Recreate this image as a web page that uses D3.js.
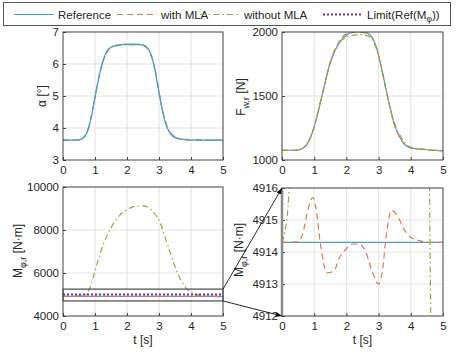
<!DOCTYPE html>
<html>
<head>
<meta charset="utf-8">
<script src="https://cdn.jsdelivr.net/npm/d3@7"></script>
<style>
  body { margin: 0; background: #fff; }
  text { font-family: "Liberation Sans", Arial, sans-serif; fill: #262626; }
</style>
</head>
<body>
<div id="chart"></div>
<script>
// ---- data ----
var tAlpha   = [0,0.5,0.625,0.75,0.875,1,1.125,1.25,1.375,1.5,1.75,2,2.25,2.5,2.625,2.75,2.875,3,3.125,3.25,3.375,3.5,3.75,4,5];
var alphaRef = [3.62,3.63,3.68,3.85,4.3,4.95,5.6,6.1,6.4,6.53,6.6,6.62,6.62,6.6,6.52,6.3,5.8,5.1,4.45,4.02,3.8,3.7,3.64,3.62,3.62];
var alphaMLA = [3.62,3.63,3.69,3.86,4.32,4.97,5.6,6.08,6.38,6.52,6.59,6.61,6.61,6.59,6.51,6.29,5.82,5.12,4.48,4.04,3.82,3.71,3.65,3.62,3.62];
var alphaNo  = [3.62,3.63,3.69,3.87,4.33,4.98,5.62,6.09,6.38,6.51,6.58,6.6,6.6,6.58,6.5,6.28,5.83,5.14,4.5,4.06,3.83,3.72,3.65,3.63,3.62];

var tF   = [0,0.5,0.625,0.75,0.875,1,1.125,1.25,1.5,1.75,2,2.25,2.5,2.75,2.875,3,3.125,3.25,3.5,3.75,4,4.5,5];
var fRef = [1075,1078,1090,1115,1170,1260,1380,1510,1760,1905,1975,2000,2000,1975,1920,1820,1680,1530,1270,1140,1095,1080,1072];
var fMLA = [1075,1078,1090,1115,1170,1260,1380,1510,1765,1915,1985,1998,1996,1970,1915,1815,1675,1525,1270,1140,1095,1080,1072];
var fNo  = [1075,1078,1090,1115,1172,1262,1385,1515,1770,1905,1960,1975,1978,1960,1910,1810,1670,1525,1285,1160,1100,1082,1072];

var tMRef = [0,5];
var mRef  = [4914.3,4914.3];
var tMMLA = [0,0.5,0.65,0.8,0.95,1.05,1.2,1.4,1.6,1.8,2.0,2.2,2.4,2.6,2.8,3.0,3.1,3.25,3.4,3.6,3.8,4.0,4.3,4.6,5];
var mMLA  = [4914.3,4914.32,4914.6,4915.3,4915.7,4915.4,4914.2,4913.35,4913.4,4913.85,4914.1,4914.25,4914.25,4914.0,4913.4,4913.0,4913.3,4914.6,4915.3,4915.1,4914.7,4914.45,4914.35,4914.3,4914.3];
var tMNo  = [0,0.1,0.2,0.3,0.5,0.7,0.85,1,1.25,1.5,1.75,2,2.25,2.5,2.75,3,3.25,3.5,3.75,4,4.3,4.5,4.6,4.7,5];
var mNo   = [4914.3,4914.7,4915.6,4918,4935,4990,5350,6100,7300,8100,8650,8950,9100,9120,8950,8450,7400,6300,5500,5100,4960,4925,4914,4903,4860];
var tLimit = [0,5];
var mLimit = [5000,5000];

var zoomBox = [4700, 5250];   // rectangle marked on the lower-left plot

var xTicks = [0,1,2,3,4,5];
var legendLabels = ["Reference", "with MLA", "without MLA", "Limit(Ref(M"];

// ---- styles ----
var STY = {
	ref:   {color: "#3d9fe0", dash: null,        w: 1.2},
	mla:   {color: "#e8764a", dash: "6,4",       w: 1.2},
	no:    {color: "#86b33c", dash: "6,3,1.5,3", w: 1.2},
	limit: {color: "#7e2f8e", dash: "2,2",       w: 2.2}
};

var W = 457, H = 356;
var svg = d3.select("#chart").append("svg")
	.attr("width", W)
	.attr("height", H);

var zip = (t, v) => t.map((d, i) => [d, v[i]]);

var panels = [
	{id: "a", x: [63, 223], y: [160, 32], dom: [3, 7], yticks: [3,4,5,6,7],
		series: [["no", tAlpha, alphaNo], ["mla", tAlpha, alphaMLA], ["ref", tAlpha, alphaRef]]},
	{id: "f", x: [282, 443], y: [160, 32], dom: [1000, 2000], yticks: [1000,1500,2000],
		series: [["ref", tF, fRef], ["mla", tF, fMLA], ["no", tF, fNo]]},
	{id: "m", x: [63, 223], y: [316, 187], dom: [4000, 10000], yticks: [4000,6000,8000,10000],
		series: [["no", tMNo, mNo], ["ref", tMRef, mRef], ["mla", tMMLA, mMLA], ["limit", tLimit, mLimit]], xlabel: true},
	{id: "z", x: [282, 443], y: [316, 188], dom: [4912, 4916], yticks: [4912,4913,4914,4915,4916],
		series: [["ref", tMRef, mRef], ["mla", tMMLA, mMLA], ["no", tMNo, mNo], ["limit", tLimit, mLimit]], xlabel: true}
];

panels.forEach(function(p){
	p.xs = d3.scaleLinear().domain([0, 5]).range(p.x);
	p.ys = d3.scaleLinear().domain(p.dom).range(p.y);
	var g = svg.append("g");

	svg.append("clipPath").attr("id", "clip-" + p.id)
		.append("rect")
		.attr("x", p.x[0]).attr("y", p.y[1])
		.attr("width", p.x[1] - p.x[0]).attr("height", p.y[0] - p.y[1]);

	// grid
	g.selectAll(".gx").data(xTicks.slice(1, -1)).enter().append("line")
		.attr("x1", d => p.xs(d)).attr("x2", d => p.xs(d))
		.attr("y1", p.y[0]).attr("y2", p.y[1])
		.attr("stroke", "#e3e3e3");
	g.selectAll(".gy").data(p.yticks.slice(1, -1)).enter().append("line")
		.attr("y1", d => p.ys(d)).attr("y2", d => p.ys(d))
		.attr("x1", p.x[0]).attr("x2", p.x[1])
		.attr("stroke", "#e3e3e3");

	// lines
	var line = d3.line().x(d => p.xs(d[0])).y(d => p.ys(d[1])).curve(d3.curveMonotoneX);
	var lg = g.append("g").attr("clip-path", "url(#clip-" + p.id + ")");
	p.series.forEach(function(s){
		var st = STY[s[0]];
		lg.append("path")
			.datum(zip(s[1], s[2]))
			.attr("d", line)
			.attr("fill", "none")
			.attr("stroke", st.color)
			.attr("stroke-width", st.w)
			.attr("stroke-dasharray", st.dash);
	});

	// axes (inward ticks)
	var ax = g.append("g").attr("transform", `translate(0,${p.y[0]})`)
		.call(d3.axisBottom(p.xs).tickValues(xTicks).tickSize(-3).tickPadding(6).tickFormat(d3.format("d")));
	var ay = g.append("g").attr("transform", `translate(${p.x[0]},0)`)
		.call(d3.axisLeft(p.ys).tickValues(p.yticks).tickSize(-3).tickPadding(4).tickFormat(d3.format("d")));
	[ax, ay].forEach(function(a){
		a.select(".domain").remove();
		a.selectAll("line").attr("stroke", "#444");
		a.selectAll("text").style("font-size", "11.5px").style("fill", "#262626")
			.style("font-family", '"Liberation Sans", Arial, sans-serif');
	});

	g.append("rect")
		.attr("x", p.x[0]).attr("y", p.y[1])
		.attr("width", p.x[1] - p.x[0]).attr("height", p.y[0] - p.y[1])
		.attr("fill", "none").attr("stroke", "#404040").attr("stroke-width", 1);

	if(p.xlabel){
		g.append("text")
			.attr("x", (p.x[0] + p.x[1]) / 2).attr("y", p.y[0] + 28)
			.attr("text-anchor", "middle").style("font-size", "12px")
			.text("t [s]");
	}
});

// y labels
function yLabel(x, y, main, sub, unit){
	var t = svg.append("text")
		.attr("transform", `translate(${x},${y}) rotate(-90)`)
		.attr("text-anchor", "middle")
		.style("font-size", "12px");
	t.append("tspan").text(main);
	if(sub){
		t.append("tspan").attr("dy", 4).style("font-size", "9px").text(sub);
		t.append("tspan").attr("dy", -4).text(" " + unit);
	}else{
		t.append("tspan").text(" " + unit);
	}
}
yLabel(46, 96, "α", null, "[°]");
yLabel(245, 97, "F", "w,r", "[N]");
yLabel(22, 251, "M", "φ,r", "[N·m]");
yLabel(243, 250, "M", "φ,r", "[N·m]");

// zoom box + arrows
var pm = panels[2], pz = panels[3];
var by0 = pm.ys(zoomBox[1]), by1 = pm.ys(zoomBox[0]);
svg.append("rect")
	.attr("x", pm.x[0]).attr("y", by0)
	.attr("width", pm.x[1] - pm.x[0]).attr("height", by1 - by0)
	.attr("fill", "none").attr("stroke", "#555").attr("stroke-width", 1.3);
svg.append("line")
	.attr("x1", pz.x[0]).attr("x2", pz.x[0])
	.attr("y1", pz.y[0]).attr("y2", pz.y[1])
	.attr("stroke", "#8a8a8a").attr("stroke-width", 2.5);

svg.append("defs").append("marker")
	.attr("id", "arr").attr("viewBox", "0 0 10 10")
	.attr("refX", 10).attr("refY", 5)
	.attr("markerWidth", 7).attr("markerHeight", 7)
	.attr("orient", "auto")
	.append("path").attr("d", "M0,1 L10,5 L0,9 Z").attr("fill", "#111");
[[by0, pz.y[1]], [by1, pz.y[0]]].forEach(function(a){
	svg.append("line")
		.attr("x1", pm.x[1]).attr("y1", a[0])
		.attr("x2", pz.x[0]).attr("y2", a[1])
		.attr("stroke", "#111").attr("stroke-width", 0.9)
		.attr("marker-end", "url(#arr)");
});

// legend
var leg = svg.append("g");
leg.append("rect").attr("x", 3.5).attr("y", 2.5).attr("width", 447).attr("height", 23)
	.attr("fill", "#fff").attr("stroke", "#555").attr("stroke-width", 1);
var legItems = [["ref", 14], ["mla", 117], ["no", 200], ["limit", 323]];
legItems.forEach(function(it, i){
	var st = STY[it[0]];
	leg.append("line")
		.attr("x1", it[1]).attr("x2", it[1] + 40)
		.attr("y1", 14.5).attr("y2", 14.5)
		.attr("stroke", st.color).attr("stroke-width", st.w)
		.attr("stroke-dasharray", st.dash);
	var t = leg.append("text")
		.attr("x", it[1] + 44).attr("y", 18.5)
		.style("font-size", "11.5px");
	t.append("tspan").text(legendLabels[i]);
	if(it[0] === "limit"){
		t.append("tspan").attr("dy", 3).style("font-size", "8.5px").text("φ");
		t.append("tspan").attr("dy", -3).text("))");
	}
});
</script>
</body>
</html>
